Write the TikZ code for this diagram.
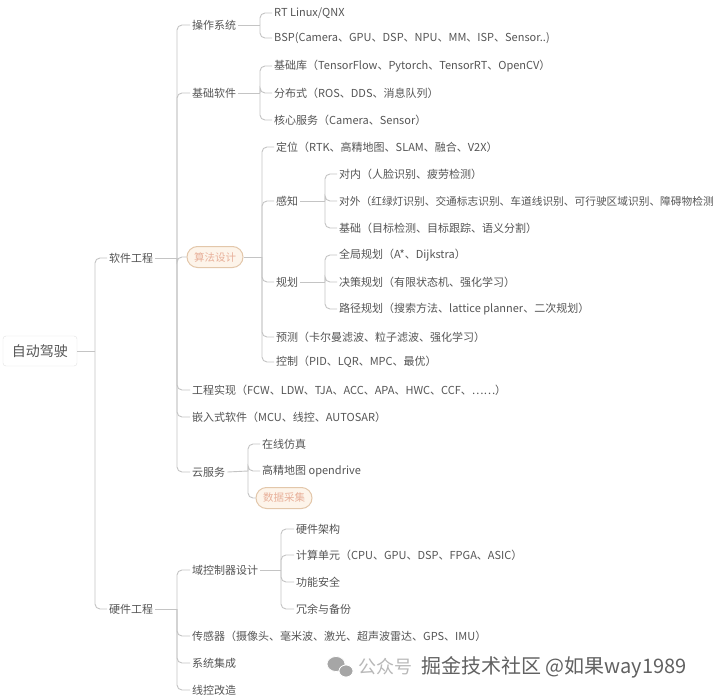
\documentclass[tikz,border=0pt]{standalone}
\usepackage{fontspec}
\setmainfont{Noto Sans CJK SC}
\usetikzlibrary{shapes.misc}
\definecolor{linec}{HTML}{C4C4C4}
\definecolor{textc}{HTML}{555555}
\definecolor{pillborder}{HTML}{E3C7AA}
\definecolor{pillfill}{HTML}{FDF4EA}
\definecolor{pilltext}{HTML}{E8B09A}
\definecolor{rootborder}{HTML}{E2E2E2}
\tikzset{
  conn/.style={draw=linec, line width=0.9pt, rounded corners=5pt},
  leaf/.style={anchor=west, inner sep=2pt, text=textc, font=\fontsize{11}{13}\selectfont},
  pill/.style={rounded rectangle, draw=pillborder, line width=1pt, fill=pillfill, text=pilltext,
    minimum height=21pt, minimum width=60pt, inner sep=2pt, font=\fontsize{10.5}{12}\selectfont},
  rootbox/.style={rectangle, rounded corners=3pt, draw=rootborder, fill=white, text=textc,
    minimum width=74pt, minimum height=30pt, font=\fontsize{14}{16}\selectfont},
}
\begin{document}
\begin{tikzpicture}[x=1pt,y=-1pt]
\useasboundingbox[fill=white] (0,0) rectangle (720,698);

% root and level 1
\node[rootbox] (root) at (40,351) {自动驾驶};
\node[leaf] (sw) at (107,258) {软件工程};
\node[leaf] (hw) at (107,609) {硬件工程};
\coordinate (j0) at (95,351);
\draw[conn] (root.east) -- (j0);
\draw[conn] (j0) |- (sw.west);
\draw[conn] (j0) |- (hw.west);

% software engineering
\node[leaf] (os) at (190,25) {操作系统};
\node[leaf] (base) at (190,93) {基础软件};
\node[pill] (algo) at (215,257) {算法设计};
\node[leaf] (eng) at (190,390) {工程实现（FCW、LDW、TJA、ACC、APA、HWC、CCF、……）};
\node[leaf] (emb) at (190,417) {嵌入式软件（MCU、线控、AUTOSAR）};
\node[leaf] (cloud) at (190,472) {云服务};
\coordinate (j1) at (177,258);
\draw[conn] (sw.east) -- (j1);
\foreach \c in {os,base,eng,emb,cloud} \draw[conn] (j1) |- (\c.west);
\draw[conn] (j1) |- (algo.west);

% operating system
\node[leaf] (rt) at (272,13) {RT Linux/QNX};
\node[leaf] (bsp) at (272,38) {BSP(Camera、GPU、DSP、NPU、MM、ISP、Sensor..)};
\coordinate (j2) at (260,25);
\draw[conn] (os.east) -- (j2);
\foreach \c in {rt,bsp} \draw[conn] (j2) |- (\c.west);

% base software
\node[leaf] (lib) at (272,66) {基础库（TensorFlow、Pytorch、TensorRT、OpenCV）};
\node[leaf] (dist) at (272,93) {分布式（ROS、DDS、消息队列）};
\node[leaf] (core) at (272,120) {核心服务（Camera、Sensor）};
\coordinate (j3) at (260,93);
\draw[conn] (base.east) -- (j3);
\foreach \c in {lib,dist,core} \draw[conn] (j3) |- (\c.west);

% algorithm design
\node[leaf] (loc) at (274,147) {定位（RTK、高精地图、SLAM、融合、V2X）};
\node[leaf] (perc) at (274,201) {感知};
\node[leaf] (plan) at (274,282) {规划};
\node[leaf] (pred) at (274,337) {预测（卡尔曼滤波、粒子滤波、强化学习）};
\node[leaf] (ctrl) at (274,362) {控制（PID、LQR、MPC、最优）};
\coordinate (j4) at (262,257);
\draw[conn] (algo.east) -- (j4);
\foreach \c in {loc,perc,plan,pred,ctrl} \draw[conn] (j4) |- (\c.west);

% perception
\node[leaf] (pin) at (337,174) {对内（人脸识别、疲劳检测）};
\node[leaf, font=\fontsize{10.7}{13}\selectfont] (pout) at (337,201) {对外（红绿灯识别、交通标志识别、车道线识别、可行驶区域识别、障碍物检测};
\node[leaf] (pbase) at (337,228) {基础（目标检测、目标跟踪、语义分割）};
\coordinate (j5) at (325,201);
\draw[conn] (perc.east) -- (j5);
\foreach \c in {pin,pout,pbase} \draw[conn] (j5) |- (\c.west);

% planning
\node[leaf] (glob) at (337,255) {全局规划（A*、Dijkstra）};
\node[leaf] (dec) at (337,282) {决策规划（有限状态机、强化学习）};
\node[leaf] (path) at (337,309) {路径规划（搜索方法、lattice planner、二次规划）};
\coordinate (j6) at (325,282);
\draw[conn] (plan.east) -- (j6);
\foreach \c in {glob,dec,path} \draw[conn] (j6) |- (\c.west);

% cloud services
\node[leaf] (sim) at (260,444) {在线仿真};
\node[leaf] (hdmap) at (260,471) {高精地图 opendrive};
\node[pill] (data) at (284,498) {数据采集};
\coordinate (j7) at (248,471);
\draw[conn] (cloud.east) -- (j7);
\foreach \c in {sim,hdmap} \draw[conn] (j7) |- (\c.west);
\draw[conn] (j7) |- (data.west);

% hardware engineering
\node[leaf] (dom) at (190,570) {域控制器设计};
\node[leaf] (sens) at (190,636) {传感器（摄像头、毫米波、激光、超声波雷达、GPS、IMU）};
\node[leaf] (integ) at (190,663) {系统集成};
\node[leaf] (wire) at (190,690) {线控改造};
\coordinate (j8) at (177,609);
\draw[conn] (hw.east) -- (j8);
\foreach \c in {dom,sens,integ,wire} \draw[conn] (j8) |- (\c.west);

% domain controller
\node[leaf] (arch) at (294,529) {硬件架构};
\node[leaf] (comp) at (294,555) {计算单元（CPU、GPU、DSP、FPGA、ASIC）};
\node[leaf] (safe) at (294,582) {功能安全};
\node[leaf] (red) at (294,609) {冗余与备份};
\coordinate (j9) at (281,570);
\draw[conn] (dom.east) -- (j9);
\foreach \c in {arch,comp,safe,red} \draw[conn] (j9) |- (\c.west);

% watermark
\fill[black!35, draw=white, line width=0.8pt] (336,664) ellipse [x radius=9, y radius=7.5];
\fill[black!35, draw=white, line width=0.8pt] (346,671) ellipse [x radius=7, y radius=6];
\node[anchor=west, inner sep=0pt, text=black!28, font=\fontsize{18}{20}\selectfont] (wm1) at (358,667) {公众号};
\node[anchor=west, inner sep=0pt, text=black!62, font=\fontsize{20}{22}\selectfont] (wm2) at (421,667) {掘金技术社区 @如果way1989};
\end{tikzpicture}
\end{document}
